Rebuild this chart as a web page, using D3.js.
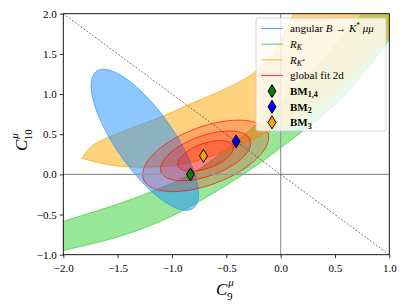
<!DOCTYPE html>
<html><head><meta charset="utf-8">
<script src="https://cdn.jsdelivr.net/npm/d3@7"></script>
<style>body{margin:0;background:#fff}svg{display:block}text{font-family:"Liberation Serif","DejaVu Serif",serif}</style>
</head><body><div id="c"></div>
<script>
// ---- data ----
const xTicks = [-2.0,-1.5,-1.0,-0.5,0.0,0.5,1.0];
const yTicks = [-1.0,-0.5,0.0,0.5,1.0,1.5,2.0];
// angular B->K* mu mu 1 sigma ellipse: [cx, cy, half-width x, half-height y, correlation]
const angularEllipse = [-1.25, 0.43, 0.494, 0.878, -0.77];
// global fit contours (1,2,3 sigma): center + half extents + correlation
const fitCenter = [-0.69, 0.23];
const fitHalfX = [0.255, 0.415, 0.58];
const fitHalfY = [0.19, 0.31, 0.445];
const fitRho = 0.52;
// R_K band: upper and lower edges
const rkUpper = [[-2.1,-0.63],[-2,-0.585],[-1.5,-0.37],[-1.2,-0.22],[-0.83,0.0],[-0.41,0.41],[0,0.9],[0.4,1.45],[0.745,2.0],[0.9,2.3]];
const rkLower = [[-2.1,-0.99],[-2,-0.95],[-1.5,-0.78],[-1.0,-0.52],[-0.47,-0.11],[-0.16,0.17],[0,0.33],[0.55,0.93],[1.0,1.68],[1.2,2.1],[1.3,2.3]];
// R_K* region: upper edge from left tip, lower edge from left tip
const rksUpper = [[-1.83,0.2],[-1.73,0.36],[-1.42,0.55],[-1.11,0.71],[-0.86,0.86],[-0.5,1.07],[-0.25,1.26],[-0.05,1.55],[0.12,2.0],[0.25,2.4]];
const rksLower = [[-1.83,0.2],[-1.54,0.11],[-1.23,0.09],[-0.93,0.12],[-0.65,0.22],[-0.35,0.38],[-0.07,0.56],[0.24,0.76],[0.55,1.1],[0.8,1.45],[1.0,1.72],[1.25,2.2],[1.3,2.4]];
// benchmark points
const bmNames = ["BM1,4","BM2","BM3"];
const bmX = [-0.83, -0.41, -0.71];
const bmY = [0.0, 0.41, 0.23];
const bmColors = ["#0a7a0a","#0000ff","#ffa500"];

// ---- layout ----
const W=407,H=305;
const x = d3.scaleLinear().domain([-2,1]).range([63.3,389.3]);
const y = d3.scaleLinear().domain([-1,2]).range([254.7,13.7]);
const svg = d3.select("#c").append("svg").attr("width",W).attr("height",H);
svg.append("defs").append("clipPath").attr("id","clip").append("rect")
  .attr("x",x(-2)).attr("y",y(2)).attr("width",x(1)-x(-2)).attr("height",y(-1)-y(2));
const g = svg.append("g").attr("clip-path","url(#clip)");

function ellipsePts(cx,cy,hx,hy,rho){
  const pts=[]; const s=Math.sqrt(1-rho*rho);
  for(let i=0;i<=120;i++){const t=i/120*2*Math.PI;
    pts.push([cx+hx*Math.cos(t), cy+hy*(rho*Math.cos(t)+s*Math.sin(t))]);}
  return pts;
}
const line = d3.line().x(d=>x(d[0])).y(d=>y(d[1]));
const smooth = d3.line().x(d=>x(d[0])).y(d=>y(d[1])).curve(d3.curveCatmullRom);

// R_K band (green)
g.append("path").attr("d", smooth(rkUpper) + "L" + smooth(rkLower.slice().reverse()).slice(1) + "Z")
  .attr("fill","rgba(50,205,50,0.5)").attr("stroke","rgba(50,205,50,0.8)").attr("stroke-width",0.8);
// R_K* (orange)
g.append("path").attr("d", smooth(rksUpper) + "L" + smooth(rksLower.slice().reverse()).slice(1) + "Z")
  .attr("fill","rgba(255,165,0,0.5)").attr("stroke","rgba(255,165,0,0.9)").attr("stroke-width",0.8);
// angular (blue)
g.append("path").attr("d", line(ellipsePts(...angularEllipse))+"Z")
  .attr("fill","rgba(30,144,255,0.5)").attr("stroke","rgba(30,144,255,0.8)").attr("stroke-width",0.8);
// global fit (red)
fitHalfX.slice().reverse().forEach((hx,i)=>{
  const k = fitHalfX.length-1-i;
  g.append("path").attr("d", line(ellipsePts(fitCenter[0],fitCenter[1],hx,fitHalfY[k],fitRho))+"Z")
   .attr("fill","rgba(255,0,0,0.2)").attr("stroke","rgba(255,0,0,0.75)").attr("stroke-width",0.9);
});

// reference lines
g.append("line").attr("x1",x(0)).attr("x2",x(0)).attr("y1",y(-1)).attr("y2",y(2)).attr("stroke","#999").attr("stroke-width",1.2);
g.append("line").attr("x1",x(-2)).attr("x2",x(1)).attr("y1",y(0)).attr("y2",y(0)).attr("stroke","#999").attr("stroke-width",1.2);
g.append("line").attr("x1",x(-2)).attr("y1",y(2)).attr("x2",x(1)).attr("y2",y(-1))
  .attr("stroke","#333").attr("stroke-width",0.7).attr("stroke-dasharray","1.8,1.8");

// markers
const diamond = "M0,-6.5L4,0L0,6.5L-4,0Z";
bmX.forEach((v,i)=>{
  g.append("path").attr("d",diamond).attr("transform",`translate(${x(v)},${y(bmY[i])})`)
   .attr("fill",bmColors[i]).attr("stroke","#000").attr("stroke-width",1);
});

// axes
const ax = svg.append("g").attr("transform",`translate(0,${y(-1)})`)
  .call(d3.axisBottom(x).tickValues(xTicks).tickSizeOuter(0).tickSize(3.5).tickFormat(d=>d3.format(".1f")(d).replace("-","−")));
const ay = svg.append("g").attr("transform",`translate(${x(-2)},0)`)
  .call(d3.axisLeft(y).tickValues(yTicks).tickSizeOuter(0).tickSize(3.5).tickFormat(d=>d3.format(".1f")(d).replace("-","−")));
[ax,ay].forEach(a=>{a.selectAll("text").attr("font-size",11).attr("fill","#000").style("font-family","Liberation Serif");
  a.select(".domain").remove(); a.selectAll("line").attr("stroke","#000").attr("stroke-width",0.8);});
ax.selectAll("text").attr("dy","0.95em");
svg.append("rect").attr("x",x(-2)).attr("y",y(2)).attr("width",x(1)-x(-2)).attr("height",y(-1)-y(2))
  .attr("fill","none").attr("stroke","#000").attr("stroke-width",0.9);

// axis labels
const xl = svg.append("text").attr("x",216).attr("y",295).attr("font-size",17).attr("font-style","italic");
xl.append("tspan").text("C");
xl.append("tspan").attr("font-size",11).attr("dy",-9).attr("dx",1).text("μ");
xl.append("tspan").attr("font-size",11).attr("font-style","normal").attr("dy",14).attr("dx",-7).text("9");
const yl = svg.append("text").attr("transform","translate(27,151) rotate(-90)").attr("font-size",17).attr("font-style","italic");
yl.append("tspan").text("C");
yl.append("tspan").attr("font-size",11).attr("dy",-9).attr("dx",1).text("μ");
yl.append("tspan").attr("font-size",11).attr("font-style","normal").attr("dy",14).attr("dx",-7).text("10");

// legend
const lg = svg.append("g");
lg.append("rect").attr("x",256).attr("y",18).attr("width",130).attr("height",113).attr("rx",2)
  .attr("fill","rgba(255,255,255,0.8)").attr("stroke","#ccc").attr("stroke-width",0.8);
const rowY = i=>28.5+i*15.65;
const lineCols = ["#5aa9f5","#6fd66f","#ffbf4d","#ff4040"];
lineCols.forEach((c,i)=>lg.append("line").attr("x1",261).attr("x2",283).attr("y1",rowY(i)).attr("y2",rowY(i)).attr("stroke",c).attr("stroke-width",1.2));
bmColors.forEach((c,i)=>lg.append("path").attr("d",diamond).attr("transform",`translate(272,${rowY(4+i)})`).attr("fill",c).attr("stroke","#000").attr("stroke-width",1));
const tx = 290;
function lt(i){return lg.append("text").attr("x",tx).attr("y",rowY(i)+3.8).attr("font-size",11);}
let t0 = lt(0); t0.append("tspan").text("angular ");
t0.append("tspan").attr("font-style","italic").text("B");
t0.append("tspan").text(" → ");
t0.append("tspan").attr("font-style","italic").text("K");
t0.append("tspan").attr("font-size",7.5).attr("dy",-4).text("*");
t0.append("tspan").attr("font-style","italic").attr("dy",4).text(" μμ");
let t1 = lt(1); t1.append("tspan").attr("font-style","italic").text("R");
t1.append("tspan").attr("font-style","italic").attr("font-size",8).attr("dy",2.5).text("K");
let t2 = lt(2); t2.append("tspan").attr("font-style","italic").text("R");
t2.append("tspan").attr("font-style","italic").attr("font-size",8).attr("dy",2.5).text("K");
t2.append("tspan").attr("font-size",6).attr("dy",-3).text("*");
lt(3).text("global fit 2d");
[["1,4"],["2"],["3"]].forEach((s,i)=>{const t=lt(4+i).attr("font-weight","bold");
  t.append("tspan").text("BM"); t.append("tspan").attr("font-size",8).attr("dy",2.5).text(s[0]);});
</script></body></html>
